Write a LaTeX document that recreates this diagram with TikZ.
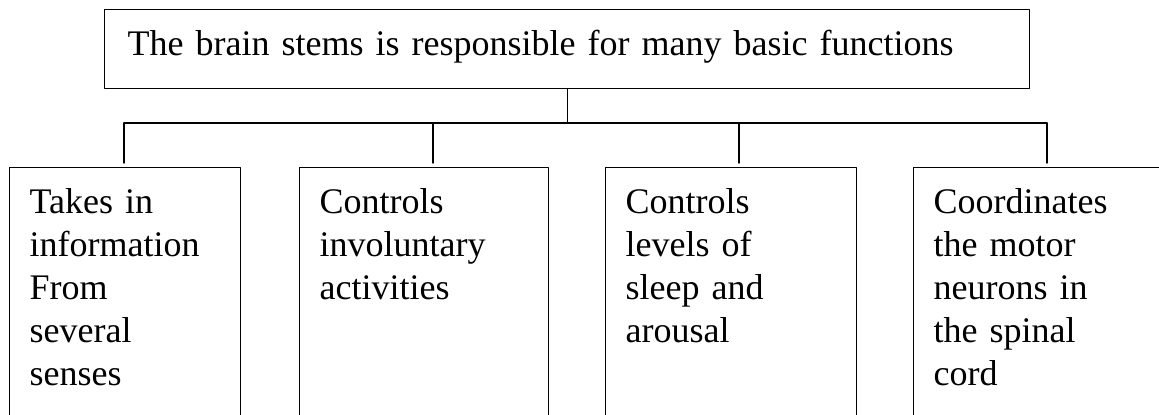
\documentclass[tikz,border=0pt]{standalone}
\usepackage{fontspec}
\setmainfont{Liberation Serif}
\tikzset{
  topbox/.style={draw, line width=0.7pt, rectangle, anchor=north west,
    text width=439.5pt, align=left, inner xsep=11.5pt, inner ysep=10.2pt,
    text depth=6.3pt, font=\fontsize{18}{21.5}\selectfont},
  fnbox/.style={draw, line width=0.7pt, rectangle, anchor=north west,
    align=left, inner xsep=10pt, inner ysep=10.2pt,
    text depth=150pt, font=\fontsize{18}{21.5}\selectfont}
}

\begin{document}
\begin{tikzpicture}[line cap=round,line join=round,x=0.5pt,y=-0.5pt,line width=0.7pt]
      \useasboundingbox (0,0) rectangle (1159,414);
      \clip (0,0) rectangle (1159,414);

      % Top box
      \node[topbox] (brainstem) at (104,9) {The brain stems is responsible for many basic functions};

      % Function boxes
      \node[fnbox, text width=95.5pt] (senses) at (9,167) {Takes in\\information\\From\\several\\senses};
      \node[fnbox, text width=104.5pt] (involuntary) at (299,167) {Controls\\involuntary\\activities};
      \node[fnbox, text width=105.5pt] (arousal) at (605,167) {Controls\\levels of\\sleep and\\arousal};
      \node[fnbox, text width=105pt] (motor) at (913,167) {Coordinates\\the motor\\neurons in\\the spinal\\cord};

      % Junctions on the bus
      \coordinate (j1) at (124,123);
      \coordinate (j2) at (433,123);
      \coordinate (j3) at (739,123);
      \coordinate (j4) at (1047,123);

      % Connectors
      \draw (brainstem.south) -- (brainstem.south |- j1);
      \draw (j1) -- (j4);
      \foreach \j/\b in {j1/senses, j2/involuntary, j3/arousal, j4/motor}
        \draw[shorten >=2pt] (\j) -- (\j |- \b.north);
    \end{tikzpicture}
\end{document}
